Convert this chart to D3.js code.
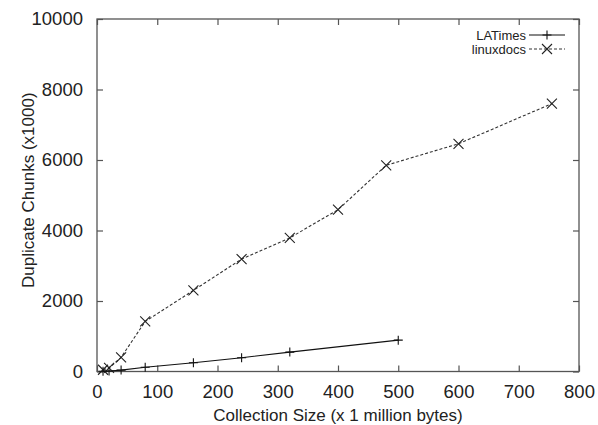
<!DOCTYPE html>
<html>
<head>
<meta charset="utf-8">
<script src="https://cdn.jsdelivr.net/npm/d3@7"></script>
<style>
  body { margin: 0; background: #fff; }
  text { font-family: "Liberation Sans", Arial, sans-serif; fill: #222; }
</style>
</head>
<body>
<div id="chart"></div>
<script>
// collection size (x 1 million bytes)
const laTimesSize = [10, 20, 40, 80, 160, 240, 320, 500];
const laTimesDup = [5, 15, 40, 120, 250, 390, 550, 890];
const linuxSize = [10, 20, 40, 80, 160, 240, 320, 400, 480, 600, 755];
const linuxDup = [50, 100, 400, 1420, 2300, 3190, 3790, 4590, 5850, 6460, 7600];
const xTicks = [0, 100, 200, 300, 400, 500, 600, 700, 800];
const yTicks = [0, 2000, 4000, 6000, 8000, 10000];
const seriesNames = ['LATimes', 'linuxdocs'];

const margin = {top: 19, right: 19, bottom: 53.5, left: 97},
  width = 598 - margin.left - margin.right,
  height = 425 - margin.top - margin.bottom;

const svg = d3.select('#chart')
  .append('svg')
    .attr('width', width + margin.left + margin.right)
    .attr('height', height + margin.top + margin.bottom)
  .append('g')
    .attr('transform', `translate(${margin.left},${margin.top})`);

const x = d3.scaleLinear().domain([0, 800]).range([0, width]);
const y = d3.scaleLinear().domain([0, 10000]).range([height, 0]);

const frameColor = '#555';

// axes, ticks pointing inward, mirrored on top and right
function styleAxis(g) {
  g.select('.domain').remove();
  g.selectAll('.tick line').attr('stroke', frameColor).attr('stroke-width', 1.2);
  g.selectAll('.tick text').style('font-size', '18.5px').attr('fill', '#222');
}
svg.append('g')
  .attr('transform', `translate(0,${height})`)
  .call(d3.axisBottom(x).tickValues(xTicks).tickSize(-6).tickPadding(13).tickFormat(d3.format('d')))
  .call(styleAxis);
svg.append('g')
  .call(d3.axisTop(x).tickValues(xTicks).tickSize(-6).tickFormat(''))
  .call(styleAxis);
svg.append('g')
  .call(d3.axisLeft(y).tickValues(yTicks).tickSize(-6).tickPadding(14).tickFormat(d3.format('d')))
  .call(styleAxis);
svg.append('g')
  .attr('transform', `translate(${width},0)`)
  .call(d3.axisRight(y).tickValues(yTicks).tickSize(-6).tickFormat(''))
  .call(styleAxis);

svg.append('rect')
  .attr('width', width)
  .attr('height', height)
  .attr('fill', 'none')
  .attr('stroke', frameColor)
  .attr('stroke-width', 1.3);

// axis titles
svg.append('text')
  .attr('x', width / 2)
  .attr('y', height + 49.5)
  .attr('text-anchor', 'middle')
  .style('font-size', '17px')
  .text('Collection Size (x 1 million bytes)');
svg.append('text')
  .attr('transform', `translate(${34 - margin.left},${height / 2 - 5}) rotate(-90)`)
  .attr('text-anchor', 'middle')
  .style('font-size', '17px')
  .text('Duplicate Chunks (x1000)');

// markers
function plus(g, cx, cy) {
  g.append('path')
    .attr('d', `M${cx - 4.5},${cy}H${cx + 4.5}M${cx},${cy - 4.5}V${cy + 4.5}`)
    .attr('stroke', '#111').attr('stroke-width', 1.1).attr('fill', 'none');
}
function cross(g, cx, cy) {
  const r = 5;
  g.append('path')
    .attr('d', `M${cx - r},${cy - r}L${cx + r},${cy + r}M${cx - r},${cy + r}L${cx + r},${cy - r}`)
    .attr('stroke', '#222').attr('stroke-width', 1.1).attr('fill', 'none');
}

const laTimes = laTimesSize.map((s, i) => ({size: s, dup: laTimesDup[i]}));
const linux = linuxSize.map((s, i) => ({size: s, dup: linuxDup[i]}));

const line = d3.line()
  .x(function(d) { return x(d.size) })
  .y(function(d) { return y(d.dup) });

svg.append('path')
  .datum(linux)
  .attr('fill', 'none')
  .attr('stroke', '#333')
  .attr('stroke-width', 1.1)
  .attr('stroke-dasharray', '3,2')
  .attr('d', line);
svg.append('path')
  .datum(laTimes)
  .attr('fill', 'none')
  .attr('stroke', '#111')
  .attr('stroke-width', 1.1)
  .attr('d', line);

const marks = svg.append('g');
linux.forEach(d => cross(marks, x(d.size), y(d.dup)));
laTimes.forEach(d => plus(marks, x(d.size), y(d.dup)));

// legend
const legend = svg.append('g')
  .attr('transform', `translate(${width - 53},${16})`);
seriesNames.forEach((name, i) => {
  const row = legend.append('g').attr('transform', `translate(0,${i * 14})`);
  row.append('text')
    .attr('x', 0)
    .attr('y', 0)
    .attr('dy', '0.35em')
    .attr('text-anchor', 'end')
    .style('font-size', '13px')
    .text(name);
  row.append('line')
    .attr('x1', 3).attr('x2', 39)
    .attr('y1', 0).attr('y2', 0)
    .attr('stroke', i === 0 ? '#111' : '#333')
    .attr('stroke-width', 1.1)
    .attr('stroke-dasharray', i === 0 ? null : '3,2');
  if (i === 0) plus(row, 21, 0); else cross(row, 21, 0);
});
</script>
</body>
</html>
